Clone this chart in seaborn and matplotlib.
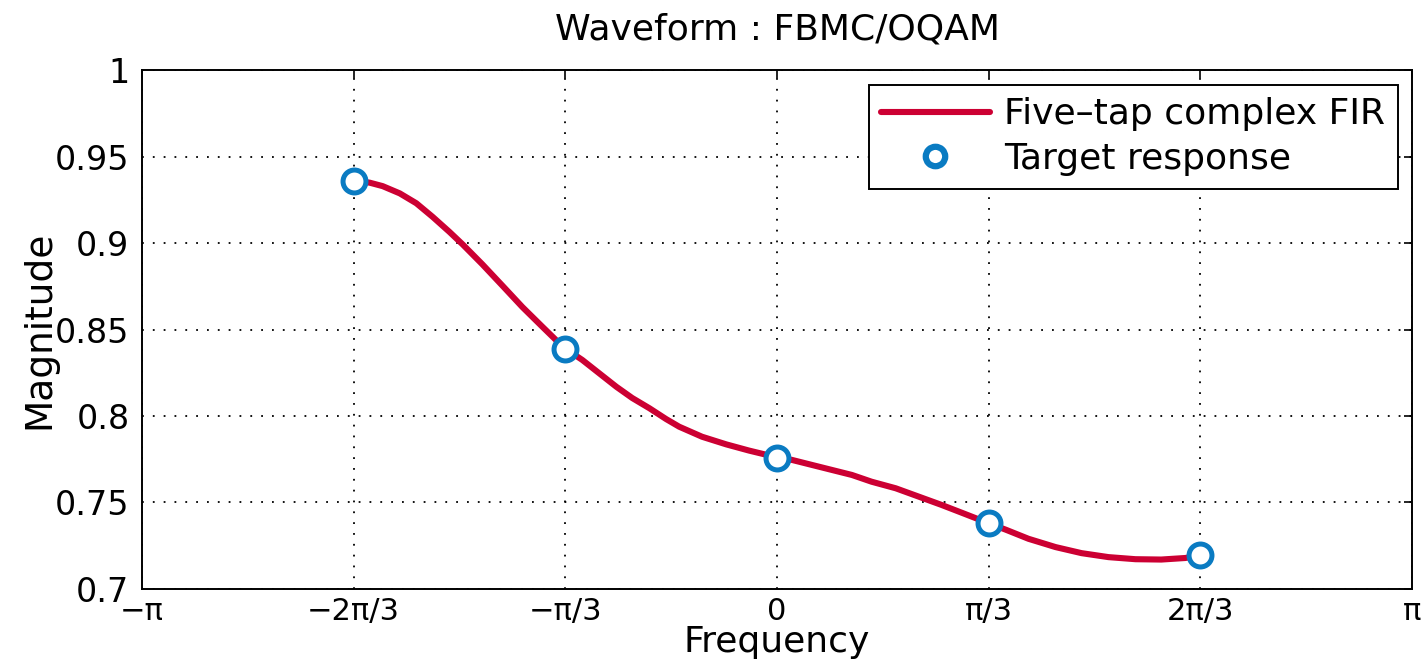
import numpy as np
import matplotlib
matplotlib.use("Agg")
import matplotlib.pyplot as plt
import seaborn as sns
from matplotlib.lines import Line2D

# Frequencies given as multiples of pi
curve_freq_pi = [-0.6667, -0.6415, -0.621, -0.594, -0.568, -0.5425, -0.516, -0.495,
                 -0.464, -0.432, -0.401, -0.3695, -0.348, -0.3333, -0.3066, -0.280,
                 -0.253, -0.228, -0.201, -0.1745, -0.154, -0.118, -0.080, -0.044,
                 -0.017, 0.0, 0.0236, 0.055, 0.0865, 0.118, 0.149, 0.187, 0.223,
                 0.259, 0.297, 0.3333, 0.360, 0.396, 0.4387, 0.4796, 0.522, 0.5645,
                 0.605, 0.643, 0.6667]
curve_mag = [0.936, 0.9349, 0.9329, 0.9287, 0.9230, 0.9152, 0.9065, 0.8992,
             0.8877, 0.8752, 0.8630, 0.8516, 0.8439, 0.839, 0.8324, 0.8247,
             0.8169, 0.8104, 0.8045, 0.7982, 0.7938, 0.7880, 0.7836, 0.7800,
             0.7776, 0.776, 0.7746, 0.7717, 0.7688, 0.7659, 0.7620, 0.7582, 0.7534,
             0.7486, 0.7432, 0.738, 0.7343, 0.7290, 0.7242, 0.7207, 0.7184, 0.7172,
             0.7170, 0.7179, 0.7194]

target_freq_pi = [-2/3, -1/3, 0.0, 1/3, 2/3]
target_mag = [0.936, 0.839, 0.776, 0.738, 0.7194]

xtick_pi = [-1, -2/3, -1/3, 0, 1/3, 2/3, 1]
xtick_labels = ["\u2212\u03c0", "\u22122\u03c0/3", "\u2212\u03c0/3", "0", "\u03c0/3", "2\u03c0/3", "\u03c0"]
yticks = [0.7, 0.75, 0.8, 0.85, 0.9, 0.95, 1.0]
ytick_labels = ["0.7", "0.75", "0.8", "0.85", "0.9", "0.95", "1"]

sns.set_theme(style="white")
plt.rcParams['font.family'] = ['DejaVu Sans']
plt.rcParams['text.color'] = 'black'
plt.rcParams['axes.labelcolor'] = 'black'

red = "#CC0033"
blue = "#0A7BC2"

fig = plt.figure(figsize=(14.24, 6.61), dpi=100)
ax = fig.add_axes([0.0997, 0.109, 0.8919, 0.785])

cx = np.array(curve_freq_pi) * np.pi
tx = np.array(target_freq_pi) * np.pi
sns.lineplot(x=cx, y=curve_mag, ax=ax, color=red, linewidth=4.4, sort=False, zorder=3)
ax.plot(tx, target_mag, linestyle="none", marker="o", markersize=16.5,
        markerfacecolor="white", markeredgecolor=blue, markeredgewidth=3.6, zorder=4)

ax.set_xlim(-np.pi, np.pi)
ax.set_ylim(0.7, 1.0)
ax.set_xticks(np.array(xtick_pi) * np.pi)
ax.set_xticklabels(xtick_labels)
ax.set_yticks(yticks)
ax.set_yticklabels(ytick_labels)
ax.tick_params(direction="in", length=6, width=1.2, labelsize=24, colors="black",
               top=True, right=True)
ax.tick_params(axis="y", pad=9)
ax.tick_params(axis="x", pad=6, labelsize=22)
ax.grid(True, linestyle=(0, (1, 5)), color="black", linewidth=1.3)
for s in ax.spines.values():
    s.set_visible(True)
    s.set_color("black")
    s.set_linewidth(1.4)

ax.set_xlabel("Frequency", fontsize=26, labelpad=-1, color="black")
ax.set_ylabel("Magnitude", fontsize=27, labelpad=-2, color="black")
ax.set_title("Waveform : FBMC/OQAM", fontsize=26, pad=22, color="black")

handles = [Line2D([0], [0], color=red, linewidth=4.4),
           Line2D([0], [0], linestyle="none", marker="o", markersize=14,
                  markerfacecolor="white", markeredgecolor=blue, markeredgewidth=4.5)]
leg = ax.legend(handles, ["Five\u2013tap complex FIR", "Target response"],
                loc="upper right", fontsize=26, frameon=True, fancybox=False,
                edgecolor="black", framealpha=1, borderpad=0.35, handlelength=3.0,
                labelspacing=0.3, handletextpad=0.4, borderaxespad=0.4)
leg.get_frame().set_linewidth(1.4)
for t in leg.get_texts():
    t.set_color("black")

fig.savefig("out.png", dpi=100)
